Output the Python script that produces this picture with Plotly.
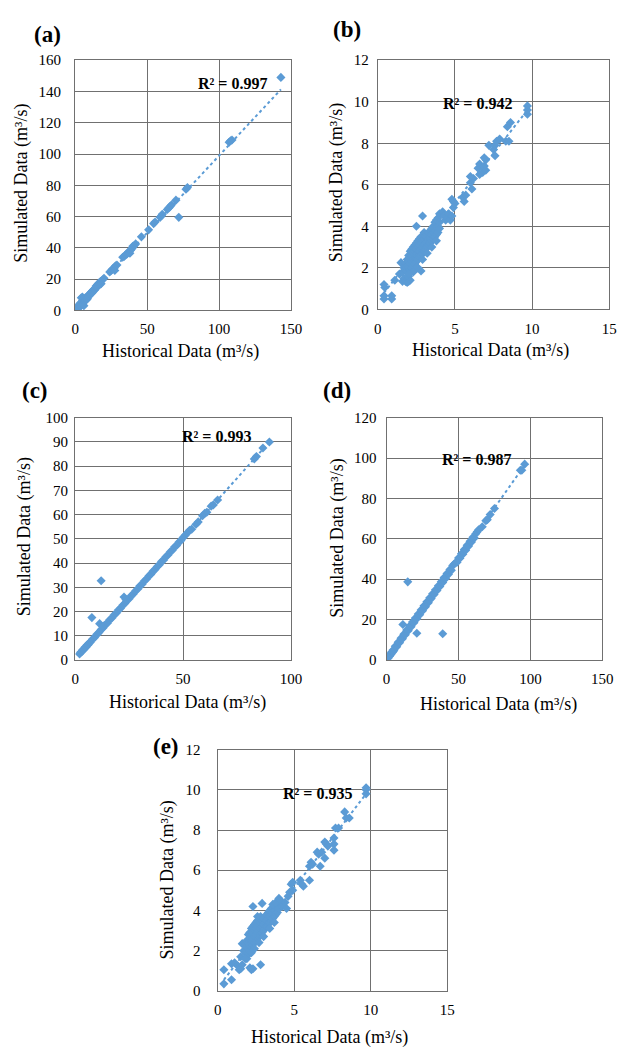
import plotly.graph_objects as go

W, H = 627, 1056
BLUE = "#5B9BD5"
GRID = "#707070"
FONT = "Liberation Serif"

# ---------------- data: panel (a) ----------------
a_hist = [0.3, 0.8, 1.2, 1.5, 2.0, 2.3, 2.8, 3.0, 3.5, 4.0,
          4.2, 4.5, 5.0, 5.0, 5.3, 5.8, 6.0, 6.5, 7.0, 7.5,
          8.0, 8.5, 9.0, 9.5, 10.0, 10.5, 11.0, 11.5, 12.0, 12.5,
          13.0, 13.5, 14.0, 14.5, 15.0, 15.5, 16.0, 16.5, 17.0, 17.5,
          18.0, 19.0, 20.0, 24.0, 25.0, 26.0, 27.0, 27.5, 28.0, 29.0,
          33.0, 34.0, 35.0, 36.0, 37.0, 38.0, 38.5, 39.5, 40.0, 41.0,
          42.0, 46.0, 51.0, 54.5, 55.5, 59.0, 60.0, 60.5, 64.0, 65.0,
          66.0, 67.0, 70.0, 72.0, 77.0, 78.0, 107.0, 108.0, 109.0, 143.0]
a_sim = [0.5, 1.5, 0.8, 2.5, 1.5, 3.0, 2.0, 4.0, 2.5, 5.0,
         8.0, 3.5, 8.5, 6.0, 4.0, 7.5, 3.0, 6.5, 8.0, 6.5,
         8.5, 7.5, 9.5, 9.0, 10.5, 11.0, 11.5, 11.0, 12.5, 12.0,
         13.5, 13.0, 14.5, 15.5, 15.0, 16.5, 15.5, 17.5, 16.5, 18.5,
         17.0, 19.5, 20.5, 24.5, 25.5, 26.5, 27.0, 25.5, 28.5, 29.0,
         34.0, 34.5, 35.5, 36.0, 37.5, 36.5, 38.5, 39.5, 41.0, 41.5,
         42.5, 47.0, 51.5, 55.5, 56.5, 59.5, 60.5, 61.5, 64.5, 65.5,
         66.5, 67.5, 70.5, 59.5, 77.5, 78.5, 107.5, 108.5, 109.0, 149.0]
a_trend_x = [0.0, 143.0]
a_trend_y = [0.3, 141.3]

# ---------------- data: panel (b) ----------------
b_hist = [0.4, 0.4, 0.45, 0.4, 0.9, 0.9, 1.1, 1.5, 1.4, 1.6,
          1.7, 1.8, 1.9, 2.0, 2.1, 2.0, 2.5, 2.9, 2.8, 2.6,
          1.6, 1.7, 1.8, 1.8, 1.9, 1.9, 2.0, 2.0, 2.0, 2.1,
          2.1, 2.1, 2.1, 2.2, 2.2, 2.2, 2.2, 2.3, 2.3, 2.3,
          2.3, 2.4, 2.4, 2.4, 2.4, 2.5, 2.5, 2.5, 2.5, 2.6,
          2.6, 2.6, 2.6, 2.7, 2.7, 2.7, 2.7, 2.8, 2.8, 2.8,
          2.8, 2.9, 2.9, 2.9, 3.0, 3.0, 3.0, 3.0, 3.1, 3.1,
          3.1, 3.2, 3.2, 3.2, 3.3, 3.3, 3.3, 3.4, 3.4, 3.4,
          3.5, 3.5, 3.5, 3.6, 3.6, 3.6, 3.7, 3.7, 3.7, 3.8,
          3.8, 3.8, 3.9, 3.9, 3.9, 4.0, 4.0, 3.5, 3.8, 3.2,
          2.9, 2.5, 2.3, 2.0,
          4.0, 4.2, 4.3, 4.4, 4.5, 4.6, 4.7, 4.8, 4.9, 4.9,
          4.8, 5.0, 5.5, 5.6, 5.7, 6.0, 6.1, 6.2, 6.0, 6.5,
          6.6, 6.6, 6.8, 6.9, 6.9, 7.0, 7.0, 7.2, 7.5, 7.6,
          7.6, 7.7, 7.9, 8.3, 8.5, 8.4, 8.6, 9.7, 9.7, 9.7]
b_sim = [0.5, 0.65, 1.05, 1.2, 0.5, 0.65, 1.4, 2.25, 1.7, 1.35,
         1.5, 1.35, 1.3, 1.35, 1.4, 1.6, 4.0, 4.5, 1.85, 2.0,
         1.8, 2.0, 1.9, 2.2, 2.1, 2.4, 2.0, 2.3, 2.6, 1.9,
         2.2, 2.5, 2.8, 2.0, 2.3, 2.6, 2.9, 2.1, 2.4, 2.7,
         3.0, 2.2, 2.5, 2.8, 3.1, 2.3, 2.6, 2.9, 3.2, 2.4,
         2.7, 3.0, 3.3, 2.5, 2.8, 3.1, 3.4, 2.6, 2.9, 3.2,
         3.5, 2.7, 3.0, 3.3, 2.8, 3.1, 3.4, 3.7, 2.9, 3.2,
         3.5, 3.0, 3.3, 3.6, 3.1, 3.4, 3.7, 3.2, 3.5, 3.8,
         3.3, 3.6, 3.9, 3.4, 3.7, 4.0, 3.5, 3.8, 4.2, 3.6,
         3.9, 4.3, 3.7, 4.0, 4.4, 3.9, 4.2, 3.0, 3.3, 2.7,
         2.4, 2.0, 1.8, 1.7,
         4.6, 4.7, 4.5, 4.3, 4.4, 4.6, 4.3, 4.5, 4.9, 5.2,
         5.3, 5.1, 5.4, 5.2, 5.5, 6.1, 5.8, 6.3, 6.4, 6.8,
         7.0, 6.5, 6.6, 6.9, 7.3, 7.2, 6.7, 7.9, 7.7, 7.9,
         7.4, 8.1, 8.2, 8.1, 8.1, 8.8, 9.0, 9.4, 9.6, 9.8]
b_trend_x = [0.4, 9.7]
b_trend_y = [0.8, 9.6]

# ---------------- data: panel (c) ----------------
c_hist = [2.0, 2.5, 3.0, 3.5, 4.0, 4.5, 5.0, 5.5, 6.0, 6.5,
          7, 8, 9, 10, 11, 12, 13, 14, 15, 16,
          17, 18, 19, 20, 21, 22, 23, 24, 25, 26,
          27, 28, 29, 30, 31, 32, 33, 34, 35, 36,
          37, 38, 39, 40, 41, 42, 43, 44, 45, 46,
          47, 48, 49, 50,
          51, 52, 53, 54, 56, 57, 59, 60, 61, 63,
          64, 66, 83, 84, 87, 90,
          12, 7.7, 11.3, 13, 22.6, 23.5]
c_sim = [2.5, 3.2, 3.4, 4.2, 4.3, 5.2, 5.3, 6.2, 6.3, 7.1,
         7.3, 8.6, 9.3, 10.6, 11.3, 12.6, 13.3, 14.6, 15.3, 16.6,
         17.3, 18.6, 19.3, 20.6, 21.3, 22.6, 23.3, 24.6, 25.3, 26.6,
         27.3, 28.6, 29.3, 30.6, 31.3, 32.6, 33.3, 34.6, 35.3, 36.6,
         37.3, 38.6, 39.3, 40.6, 41.3, 42.6, 43.3, 44.6, 45.3, 46.6,
         47.3, 48.6, 49.3, 50.6,
         51.5, 52.5, 53.5, 54, 56, 57, 59.5, 60.5, 61, 63.5,
         64, 66, 83, 84, 87.5, 90,
         32.7, 17.5, 15, 14, 26, 25]
c_trend_x = [2.0, 90.0]
c_trend_y = [2.2, 90.0]

# ---------------- data: panel (d) ----------------
d_hist = [0.5, 1.0, 1.5, 2.0, 2.5, 3.0, 3.5, 4.0, 4.5, 5.0,
          6, 7, 8, 9, 10, 11, 12, 13, 14, 15,
          16, 17, 18, 19, 20, 21, 22, 23, 24, 25,
          26, 27, 28, 29, 30, 31, 32, 33, 34, 35,
          36, 37, 38, 39, 40, 41, 42, 43, 44, 45,
          46, 47, 48, 49, 50, 51, 52, 53, 54, 55,
          56, 57, 58, 59, 60, 61, 62,
          63, 64, 66.5, 69, 70, 72, 75, 93, 94, 96,
          14.7, 11.3, 21, 39]
d_sim = [0.8, 0.9, 1.9, 1.8, 2.9, 2.7, 3.9, 3.7, 4.9, 4.6,
         6.8, 6.5, 8.8, 8.5, 10.8, 10.5, 12.8, 12.5, 14.8, 14.5,
         16.8, 16.4, 18.8, 18.4, 20.8, 20.4, 22.8, 22.4, 24.8, 24.4,
         26.8, 26.4, 28.8, 28.4, 30.8, 30.4, 32.8, 32.4, 34.8, 34.4,
         36.8, 36.4, 38.8, 38.4, 40.8, 40.4, 42.8, 42.4, 44.8, 44.4,
         46.8, 47.5, 48.2, 48.4, 50.5, 50.4, 52.6, 52.4, 54.7, 54.4,
         56.8, 56.4, 58.8, 58.4, 60.8, 60.4, 62.5,
         63.5, 64.5, 66, 69, 69.5, 72, 75, 94, 94, 97,
         38.7, 17.6, 13.2, 13]
d_trend_x = [0.5, 96.0]
d_trend_y = [0.4, 96.5]

# ---------------- data: panel (e) ----------------
e_hist = [0.4, 0.4, 0.9, 0.9, 1.1, 1.3, 1.4, 1.5, 1.6, 1.5,
          1.6, 1.9, 2.1, 2.2, 2.3, 2.8, 2.3, 2.9, 2.6, 1.9,
          2.0,
          1.7, 1.8, 1.8, 1.9, 1.9, 2.0, 2.0, 2.0, 2.1, 2.1,
          2.1, 2.1, 2.2, 2.2, 2.2, 2.2, 2.3, 2.3, 2.3, 2.3,
          2.4, 2.4, 2.4, 2.4, 2.5, 2.5, 2.5, 2.5, 2.6, 2.6,
          2.6, 2.6, 2.7, 2.7, 2.7, 2.8, 2.8, 2.8, 2.8, 2.9,
          2.9, 2.9, 3.0, 3.0, 3.0, 3.1, 3.1, 3.1, 3.2, 3.2,
          3.2, 3.3, 3.3, 3.3, 3.4, 3.4, 3.4, 3.5, 3.5, 3.5,
          3.6, 3.6, 3.7, 3.7, 3.8, 3.8, 3.9, 3.9, 4.0, 3.4,
          3.0, 2.7, 2.4, 2.2, 1.8, 3.7,
          3.6, 3.8, 4.0, 4.1, 4.2, 4.4, 4.5, 4.6, 4.7, 4.8,
          4.9, 4.9, 5.4, 5.5, 5.6, 6.0, 6.1, 6.0, 6.2, 6.5,
          6.6, 6.7, 6.8, 7.0, 7.0, 7.1, 7.2, 7.6, 7.6, 7.6,
          7.7, 7.9, 8.3, 8.4, 8.6, 9.7, 9.7, 9.7]
e_sim = [0.35, 1.05, 0.55, 1.35, 1.4, 1.25, 1.05, 1.1, 1.3, 1.7,
         2.35, 1.6, 1.15, 1.05, 1.1, 1.3, 4.2, 4.35, 3.7, 2.0,
         1.8,
         2.0, 1.9, 2.3, 2.2, 2.5, 2.1, 2.4, 2.8, 2.0, 2.3,
         2.6, 2.9, 2.2, 2.5, 2.8, 3.1, 2.3, 2.6, 2.9, 3.2,
         2.4, 2.7, 3.0, 3.3, 2.5, 2.8, 3.1, 3.4, 2.6, 2.9,
         3.2, 3.5, 2.7, 3.0, 3.3, 2.8, 3.1, 3.4, 3.7, 2.9,
         3.2, 3.5, 3.0, 3.3, 3.6, 3.1, 3.4, 3.7, 3.2, 3.5,
         3.8, 3.3, 3.6, 3.9, 3.4, 3.7, 4.0, 3.5, 3.8, 4.1,
         3.6, 3.9, 3.7, 4.0, 3.8, 4.2, 3.9, 4.3, 4.1, 3.1,
         2.7, 2.4, 2.1, 1.9, 1.6, 3.4,
         4.3, 4.4, 4.6, 4.5, 4.2, 4.4, 4.1, 4.7, 4.9, 5.3,
         5.4, 5.0, 5.5, 5.3, 5.2, 6.2, 6.4, 5.5, 6.3, 6.9,
         6.8, 6.2, 6.9, 6.6, 7.4, 7.3, 7.2, 7.0, 7.3, 7.6,
         8.1, 8.1, 8.9, 8.6, 8.6, 9.8, 10.0, 10.1]
e_trend_x = [0.4, 9.7]
e_trend_y = [0.55, 9.8]

labels = ["(a)", "(b)", "(c)", "(d)", "(e)"]
r2_texts = ["R² = 0.997", "R² = 0.942", "R² = 0.993", "R² = 0.987", "R² = 0.935"]
x_ranges = [[0, 150], [0, 15], [0, 100], [0, 150], [0, 15]]
x_dticks = [50, 5, 50, 50, 5]
y_ranges = [[0, 160], [0, 12], [0, 100], [0, 120], [0, 12]]
y_dticks = [20, 2, 10, 20, 2]
x_title = "Historical Data (m³/s)"
y_title = "Simulated Data (m³/s)"

series = [(a_hist, a_sim, a_trend_x, a_trend_y),
          (b_hist, b_sim, b_trend_x, b_trend_y),
          (c_hist, c_sim, c_trend_x, c_trend_y),
          (d_hist, d_sim, d_trend_x, d_trend_y),
          (e_hist, e_sim, e_trend_x, e_trend_y)]

# ---------------- layout (pixel geometry) ----------------
boxes = [(73, 294, 53, 307), (383, 620, 53, 306), (73, 294, 416, 662),
         (392, 613, 416, 662), (219, 454, 753, 998)]
ytick_len = [10, 5, 3, 6, 13]
r2_pos = [(234, 77), (485, 97), (218, 435), (484, 458), (321, 798)]
lab_pos = [(45, 27), (351, 22), (32, 388), (341, 388), (166, 750)]
xt_pos = [(181, 349), (498, 348), (188, 705), (507, 707), (333, 1045)]
yt_pos = [(18, 178), (340, 177), (21, 537), (342, 538), (168, 885)]


def px(x):
    return x / W


def py(y):
    return 1 - y / H


fig = go.Figure()
annotations = []
layout = dict(width=W, height=H, margin=dict(l=0, r=0, t=0, b=0),
              paper_bgcolor="white", plot_bgcolor="white", showlegend=False,
              font=dict(family=FONT, color="#000000"))

for i, (hx, sy, tx, ty) in enumerate(series):
    n = "" if i == 0 else str(i + 1)
    xa, ya = "x" + n, "y" + n
    fig.add_trace(go.Scatter(x=hx, y=sy, mode="markers", xaxis=xa, yaxis=ya,
                             marker=dict(symbol="diamond", size=7, color=BLUE,
                                         line=dict(width=0)),
                             hoverinfo="skip"))
    fig.add_trace(go.Scatter(x=tx, y=ty, mode="lines", xaxis=xa, yaxis=ya,
                             line=dict(color=BLUE, width=2, dash="dot"),
                             hoverinfo="skip"))
    l, r, t, b = boxes[i]
    common = dict(showgrid=True, gridcolor=GRID, gridwidth=1.3, showline=True,
                  linecolor=GRID, linewidth=1.3, mirror=True, zeroline=False,
                  ticks="outside", tickcolor="rgba(0,0,0,0)",
                  tickfont=dict(family=FONT, size=15, color="#000000"),
                  fixedrange=True)
    layout["xaxis" + n] = dict(common, domain=[px(l), px(r)], range=x_ranges[i],
                               dtick=x_dticks[i], tick0=0, anchor=ya, ticklen=5)
    layout["yaxis" + n] = dict(common, domain=[py(b), py(t)], range=y_ranges[i],
                               dtick=y_dticks[i], tick0=0, anchor=xa,
                               ticklen=ytick_len[i])
    annotations.append(dict(text="<b>" + r2_texts[i] + "</b>", x=px(r2_pos[i][0]), y=py(r2_pos[i][1]),
                            xref="paper", yref="paper", showarrow=False,
                            xanchor="center", yanchor="middle",
                            font=dict(family=FONT, size=16, color="#000000")))
    annotations.append(dict(text="<b>" + labels[i] + "</b>", x=px(lab_pos[i][0]), y=py(lab_pos[i][1]),
                            xref="paper", yref="paper", showarrow=False,
                            xanchor="center", yanchor="middle",
                            font=dict(family=FONT, size=23, color="#000000")))
    annotations.append(dict(text=x_title, x=px(xt_pos[i][0]), y=py(xt_pos[i][1]),
                            xref="paper", yref="paper", showarrow=False,
                            xanchor="center", yanchor="middle",
                            font=dict(family=FONT, size=18, color="#000000")))
    annotations.append(dict(text=y_title, x=px(yt_pos[i][0]), y=py(yt_pos[i][1]),
                            xref="paper", yref="paper", showarrow=False,
                            xanchor="center", yanchor="middle", textangle=-90,
                            font=dict(family=FONT, size=18, color="#000000")))

layout["annotations"] = annotations
fig.update_layout(**layout)
fig.write_html("out.html", config={"displayModeBar": False})
